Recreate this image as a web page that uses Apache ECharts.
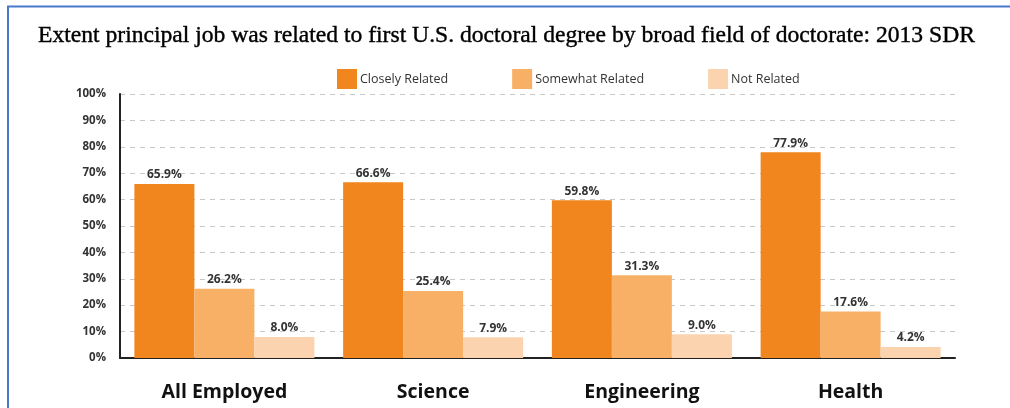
<!DOCTYPE html>
<html><head><meta charset="utf-8">
<script src="https://cdn.jsdelivr.net/npm/echarts@6/dist/echarts.min.js"></script>
<style>html,body{margin:0;padding:0;background:#fff}#c{width:1010px;height:408px}</style>
</head><body><div id="c"></div>
<script>
const categories = ['All Employed', 'Science', 'Engineering', 'Health'];
const seriesNames = ['Closely Related', 'Somewhat Related', 'Not Related'];
const closely = [65.9, 66.6, 59.8, 77.9];
const somewhat = [26.2, 25.4, 31.3, 17.6];
const notRelated = [8.0, 7.9, 9.0, 4.2];
const colors = ['#F0861D', '#F8B067', '#FBD3AE'];
const titleText = 'Extent principal job was related to first U.S. doctoral degree by broad field of doctorate: 2013 SDR';

const chart = echarts.init(document.getElementById('c'));
const mk = (name, data, i) => ({
  name, type: 'bar', data, barWidth: 60, barGap: '0%',
  itemStyle: { color: colors[i] },
  label: { show: true, position: 'top', distance: 3, formatter: p => p.value.toFixed(1) + '%',
    color: '#333', fontFamily: 'Open Sans', fontSize: 12, fontWeight: 'bold' }
});
chart.setOption({
  animation: false,
  title: { text: titleText, left: 33, top: 19,
    textStyle: { fontFamily: 'Liberation Serif', fontSize: 23.6, fontWeight: 'normal', color: '#000',
      textBorderColor: '#000', textBorderWidth: 0.4 } },
  legend: { top: 64, left: 332, itemGap: 64, itemWidth: 20, itemHeight: 20, itemStyle: { borderWidth: 0 },
    data: seriesNames, icon: 'rect',
    textStyle: { fontFamily: 'Open Sans', fontSize: 12.5, color: '#333', padding: [0, 0, 0, -2] } },
  grid: { left: 120, right: 55, top: 94, bottom: 50 },
  xAxis: { type: 'category', data: categories,
    axisLine: { lineStyle: { color: '#222', width: 2 } }, axisTick: { show: false },
    axisLabel: { margin: 24, fontFamily: 'Open Sans', fontSize: 19.5, fontWeight: 'bold', color: '#111' } },
  yAxis: { type: 'value', min: 0, max: 100, interval: 10,
    axisLine: { show: true, lineStyle: { color: '#222', width: 2 } }, axisTick: { show: false },
    axisLabel: { margin: 14, formatter: '{value}%', fontFamily: 'Open Sans', fontSize: 11.5, fontWeight: 'bold', color: '#333',
      padding: [6, 0, 0, 0] },
    splitLine: { lineStyle: { color: '#c8c8c8', type: [5, 5], width: 1 } } },
  series: [mk(seriesNames[0], closely, 0), mk(seriesNames[1], somewhat, 1), mk(seriesNames[2], notRelated, 2)],
  graphic: [
    { type: 'polyline', shape: { points: [[8, 408], [8, 6.5], [1010, 6.5]] },
      style: { stroke: '#4A78C8', lineWidth: 2, fill: null } }
  ]
});
</script></body></html>
